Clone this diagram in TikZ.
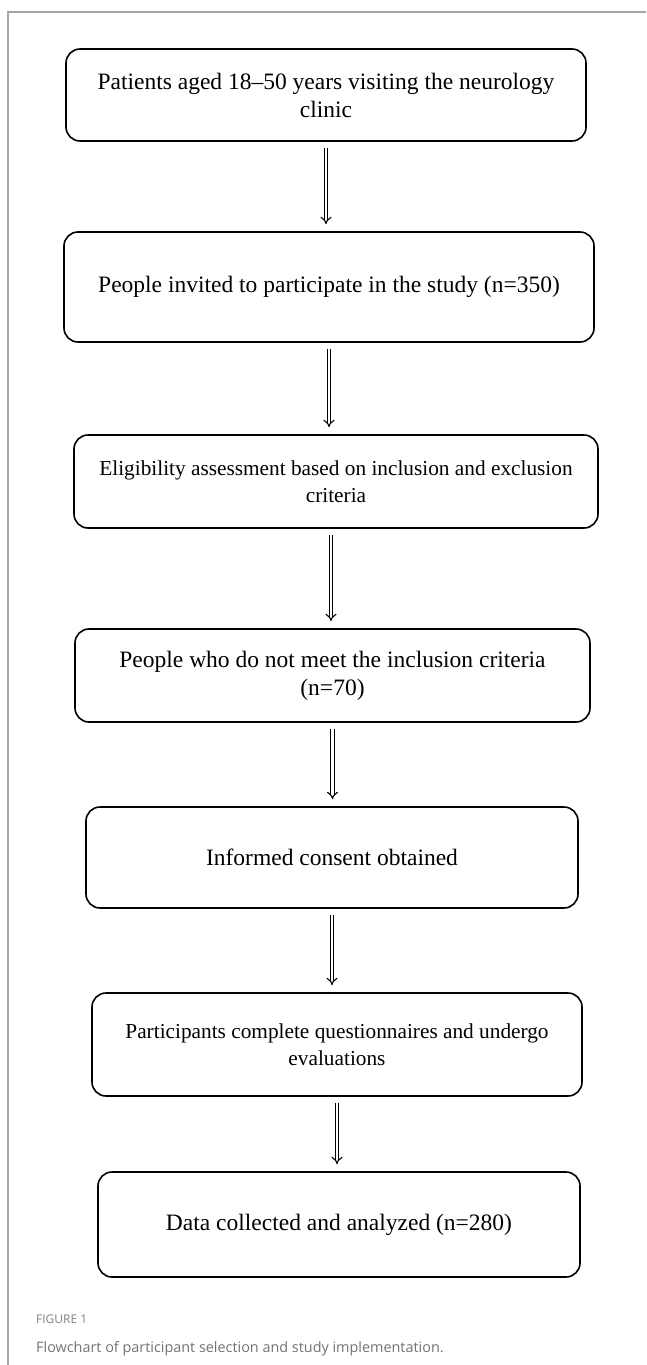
\documentclass[tikz,border=0pt]{standalone}
\usepackage{fontspec}
\setmainfont{Liberation Serif}
\newfontfamily\capfont{Open Sans}
\usetikzlibrary{arrows.meta, positioning}

\begin{document}
\begin{tikzpicture}[x=1pt, y=-1pt,
    flow box/.style={draw, rounded corners=14pt, line width=1.6pt, align=center, font=\fontsize{23.5}{28}\selectfont},
    small box/.style={flow box, font=\fontsize{21.3}{27}\selectfont},
    flow arrow/.style={double, double distance=2.6pt, line width=1.1pt, -{Implies}, shorten <=6pt, shorten >=7pt},
    caption/.style={anchor=base west, text=black!55, inner sep=0pt}]
    \useasboundingbox (0,0) rectangle (646,1365);

    % frame
    \draw[black!35, line width=1.2pt] (646,12) -- (8,12) -- (8,1365);

    \node[flow box, minimum width=520pt, minimum height=92pt] (clinic) at (326,95) {Patients aged 18--50 years visiting the neurology\\clinic};
    \node[flow box, minimum width=530pt, minimum height=110pt] (invited) at (329,287) {People invited to participate in the study (n=350)};
    \node[small box, minimum width=524pt, minimum height=93pt] (eligible) at (336,481.5) {Eligibility assessment based on inclusion and exclusion\\criteria};
    \node[flow box, minimum width=515pt, minimum height=93pt] (excluded) at (332.5,675.5) {People who do not meet the inclusion criteria\\(n=70)};
    \node[flow box, minimum width=492pt, minimum height=101pt] (consent) at (332,857.5) {Informed consent obtained};
    \node[small box, minimum width=490pt, minimum height=103pt] (evaluate) at (337,1044.5) {Participants complete questionnaires and undergo\\evaluations};
    \node[flow box, minimum width=482pt, minimum height=105pt] (analyzed) at (339,1224.5) {Data collected and analyzed (n=280)};

    \draw[flow arrow] (clinic.south) -- (clinic.south |- invited.north);
    \draw[flow arrow] (invited.south) -- (invited.south |- eligible.north);
    \draw[flow arrow] ([xshift=-5pt]eligible.south) -- ([xshift=-5pt]eligible.south |- excluded.north);
    \draw[flow arrow] (excluded.south) -- (excluded.south |- consent.north);
    \draw[flow arrow] (consent.south) -- (consent.south |- evaluate.north);
    \draw[flow arrow] (evaluate.south) -- (evaluate.south |- analyzed.north);

    % caption
    \node[caption, text=black!50, font=\capfont\fontsize{12}{14}\selectfont] (figlabel) at (36,1323) {FIGURE 1};
    \node[caption, font=\capfont\fontsize{14.4}{18}\selectfont] (figtitle) at (36,1352) {Flowchart of participant selection and study implementation.};
\end{tikzpicture}
\end{document}
